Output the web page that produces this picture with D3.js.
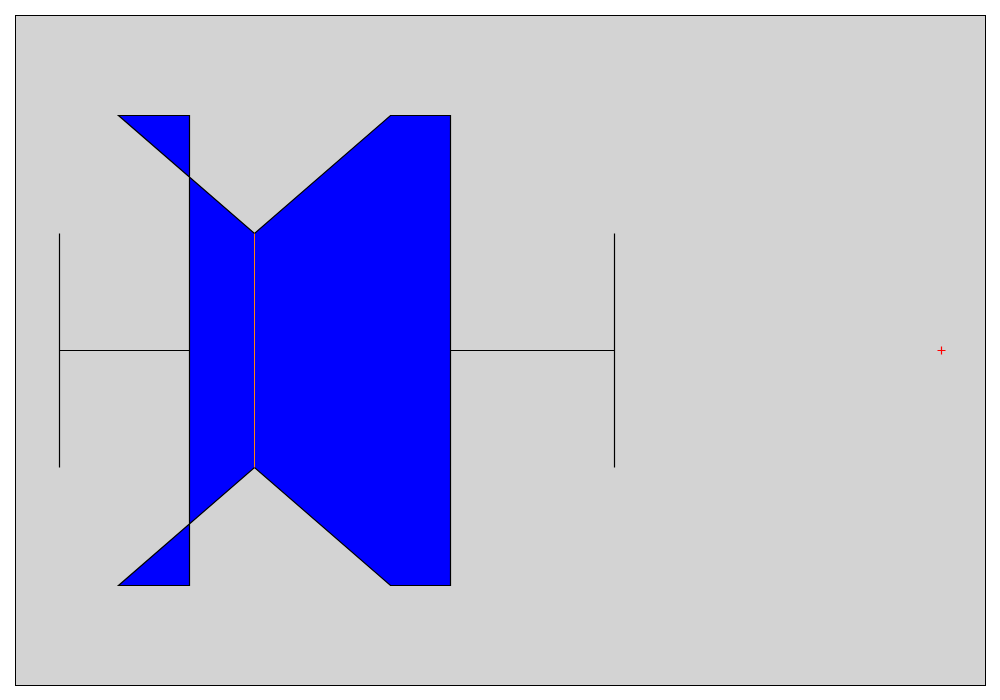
<!DOCTYPE html>
<html><head><meta charset="utf-8">
<script src="https://cdn.jsdelivr.net/npm/d3@7"></script>
<style>body{margin:0;background:#fff}</style>
</head><body>
<script>
// Box statistics (data units)
const whiskerLow = [0];
const q1 = [14.76];
const median = [22.13];
const q3 = [44.38];
const whiskerHigh = [62.88];
const notchLow = [6.70];
const notchHigh = [37.57];
const outliers = [100];
const positions = [1];

const W = 1000, H = 700;
const m = {l: 15, r: 15, t: 15, b: 15};
const svg = d3.select("body").append("svg").attr("width", W).attr("height", H);

const allVals = whiskerLow.concat(whiskerHigh, outliers, q1, q3, notchLow, notchHigh);
const lo = d3.min(allVals), hi = d3.max(allVals), pad = (hi - lo) * 0.05;
const x = d3.scaleLinear().domain([lo - pad, hi + pad]).range([m.l, W - m.r]);
const y = d3.scaleLinear().domain([0.643, 1.357]).range([H - m.b, m.t]);
const sx = v => Math.round(x(v)) + 0.5;
const sy = v => Math.round(y(v)) + 0.5;

svg.append("rect").attr("x", m.l + 0.5).attr("y", m.t + 0.5)
  .attr("width", W - m.r - m.l).attr("height", H - m.b - m.t)
  .attr("fill", "#d3d3d3").attr("stroke", "#000").attr("stroke-width", 1);

const bw = 0.5, nw = 0.25;
positions.forEach((p, i) => {
  const g = svg.append("g");
  // whiskers
  g.append("line").attr("x1", sx(whiskerLow[i])).attr("x2", sx(q1[i]))
    .attr("y1", sy(p)).attr("y2", sy(p)).attr("stroke", "#000").attr("stroke-width", 1.2);
  g.append("line").attr("x1", sx(q3[i])).attr("x2", sx(whiskerHigh[i]))
    .attr("y1", sy(p)).attr("y2", sy(p)).attr("stroke", "#000").attr("stroke-width", 1.2);
  [whiskerLow[i], whiskerHigh[i]].forEach(v => {
    g.append("line").attr("x1", sx(v)).attr("x2", sx(v))
      .attr("y1", sy(p - nw / 2)).attr("y2", sy(p + nw / 2)).attr("stroke", "#000").attr("stroke-width", 1.2);
  });
  // notched box
  const pts = [
    [q1[i], p - bw / 2], [notchLow[i], p - bw / 2], [median[i], p - nw / 2],
    [notchHigh[i], p - bw / 2], [q3[i], p - bw / 2], [q3[i], p + bw / 2],
    [notchHigh[i], p + bw / 2], [median[i], p + nw / 2], [notchLow[i], p + bw / 2],
    [q1[i], p + bw / 2]
  ];
  g.append("path").attr("d", d3.line().x(d => sx(d[0])).y(d => sy(d[1]))(pts) + "Z")
    .attr("fill", "#0000ff").attr("stroke", "#000").attr("stroke-width", 1.2)
    .attr("stroke-linejoin", "miter");
  g.append("line").attr("x1", sx(median[i])).attr("x2", sx(median[i]))
    .attr("y1", sy(p - nw / 2)).attr("y2", sy(p + nw / 2))
    .attr("stroke", "#ff7f0e").attr("stroke-width", 1);
  // outliers
  outliers.forEach(o => {
    const cx = sx(o), cy = sy(p), s = 4;
    g.append("path").attr("d", `M${cx - s},${cy}H${cx + s}M${cx},${cy - s}V${cy + s}`)
      .attr("stroke", "#ff0000").attr("stroke-width", 1.2).attr("fill", "none");
  });
});
</script>
</body></html>
